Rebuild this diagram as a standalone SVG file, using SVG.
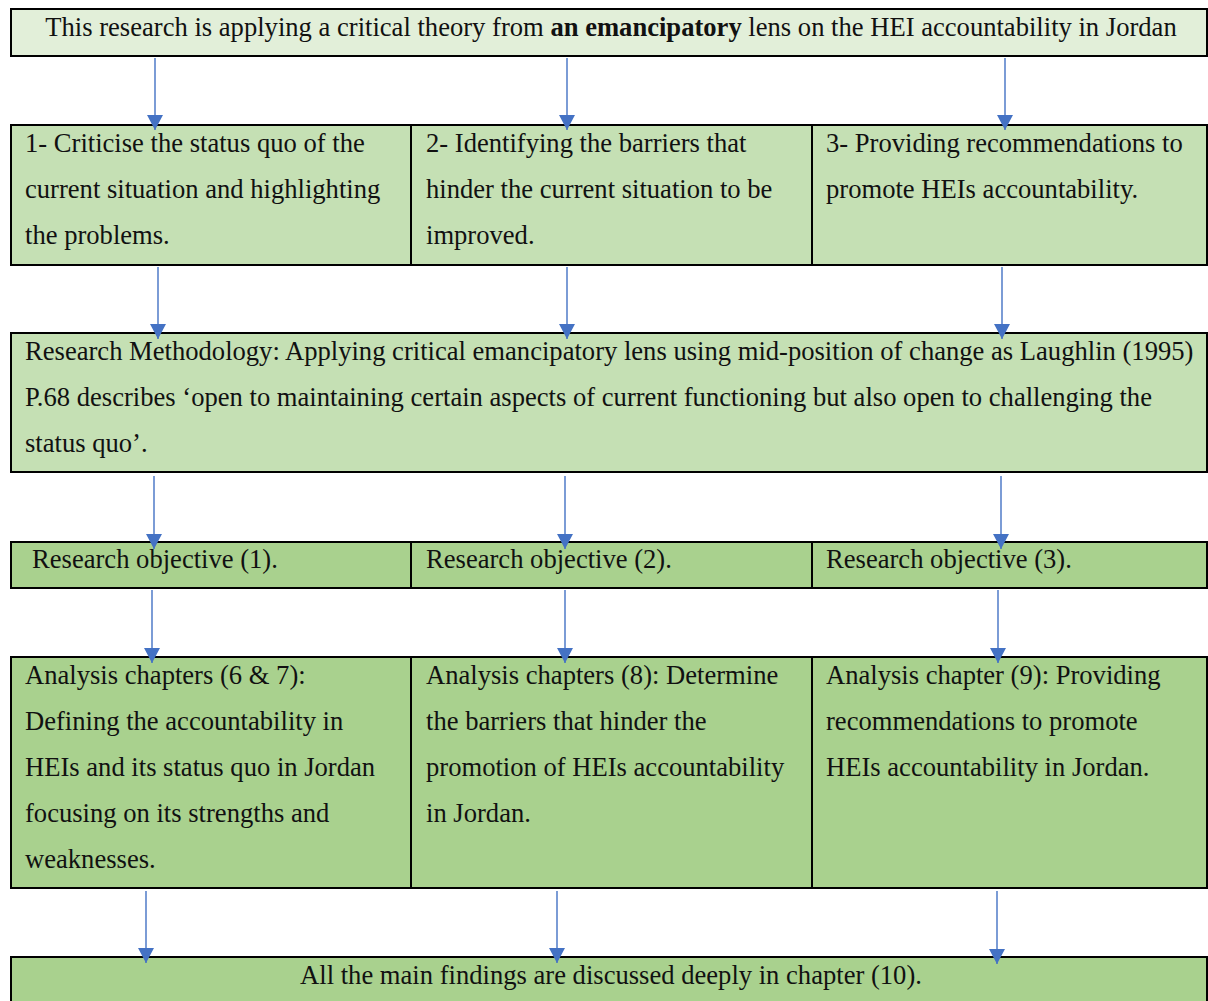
<svg xmlns="http://www.w3.org/2000/svg" width="1208" height="1001" viewBox="0 0 1208 1001">
<defs>
<marker id="ah" markerUnits="userSpaceOnUse" markerWidth="15" markerHeight="16" viewBox="0 0 15 16" refX="15" refY="8" orient="auto">
<path d="M0,0 L15,8 L0,16 Z" fill="#4472C4"/>
</marker>
<style>
.box{stroke:#000;stroke-width:2}
.l1{fill:#E2EFD9}
.l2{fill:#C5E0B4}
.l3{fill:#A9D18E}
.c{text-anchor:middle}
.conn line{stroke:#4472C4;stroke-width:1.4;marker-end:url(#ah)}
</style>
</defs>
<rect width="1208" height="1001" fill="#fff"/>
<g font-family="Liberation Serif, Times New Roman, serif" font-size="26.6" fill="#111">
<g id="top">
<rect class="box l1" x="11" y="9" width="1196" height="47"/>
<text class="c" x="611" y="36">This research is applying a critical theory from <tspan font-weight="bold">an emancipatory</tspan> lens on the HEI accountability in Jordan</text>
</g>
<g id="aim1">
<rect class="box l2" x="11" y="125" width="400" height="140"/>
<text x="25" y="152">1- Criticise the status quo of the</text>
<text x="25" y="198">current situation and highlighting</text>
<text x="25" y="244">the problems.</text>
</g>
<g id="aim2">
<rect class="box l2" x="411" y="125" width="401" height="140"/>
<text x="426" y="152">2- Identifying the barriers that</text>
<text x="426" y="198">hinder the current situation to be</text>
<text x="426" y="244">improved.</text>
</g>
<g id="aim3">
<rect class="box l2" x="812" y="125" width="395" height="140"/>
<text x="826" y="152">3- Providing recommendations to</text>
<text x="826" y="198">promote HEIs accountability.</text>
</g>
<g id="methodology">
<rect class="box l2" x="11" y="333" width="1196" height="139"/>
<text x="25" y="360">Research Methodology: Applying critical emancipatory lens using mid-position of change as Laughlin (1995)</text>
<text x="25" y="406">P.68 describes ‘open to maintaining certain aspects of current functioning but also open to challenging the</text>
<text x="25" y="452">status quo’.</text>
</g>
<g id="obj1">
<rect class="box l3" x="11" y="542" width="400" height="46"/>
<text x="32" y="568">Research objective (1).</text>
</g>
<g id="obj2">
<rect class="box l3" x="411" y="542" width="401" height="46"/>
<text x="426" y="568">Research objective (2).</text>
</g>
<g id="obj3">
<rect class="box l3" x="812" y="542" width="395" height="46"/>
<text x="826" y="568">Research objective (3).</text>
</g>
<g id="ch1">
<rect class="box l3" x="11" y="657" width="400" height="231"/>
<text x="25" y="684">Analysis chapters (6 &amp; 7):</text>
<text x="25" y="730">Defining the accountability in</text>
<text x="25" y="776">HEIs and its status quo in Jordan</text>
<text x="25" y="822">focusing on its strengths and</text>
<text x="25" y="868">weaknesses.</text>
</g>
<g id="ch2">
<rect class="box l3" x="411" y="657" width="401" height="231"/>
<text x="426" y="684">Analysis chapters (8): Determine</text>
<text x="426" y="730">the barriers that hinder the</text>
<text x="426" y="776">promotion of HEIs accountability</text>
<text x="426" y="822">in Jordan.</text>
</g>
<g id="ch3">
<rect class="box l3" x="812" y="657" width="395" height="231"/>
<text x="826" y="684">Analysis chapter (9): Providing</text>
<text x="826" y="730">recommendations to promote</text>
<text x="826" y="776">HEIs accountability in Jordan.</text>
</g>
<g id="findings">
<rect class="box l3" x="11" y="957" width="1196" height="60"/>
<text class="c" x="611" y="984">All the main findings are discussed deeply in chapter (10).</text>
</g>
</g>
<g class="conn" id="connectors">
<line x1="155" y1="58" x2="155" y2="130"/>
<line x1="567" y1="58" x2="567" y2="130"/>
<line x1="1005" y1="58" x2="1005" y2="130"/>
<line x1="158" y1="267" x2="158" y2="339"/>
<line x1="567" y1="267" x2="567" y2="339"/>
<line x1="1002" y1="267" x2="1002" y2="339"/>
<line x1="154" y1="476" x2="154" y2="549"/>
<line x1="565" y1="476" x2="565" y2="549"/>
<line x1="1001" y1="476" x2="1001" y2="549"/>
<line x1="152" y1="590" x2="152" y2="663"/>
<line x1="565" y1="590" x2="565" y2="663"/>
<line x1="998" y1="590" x2="998" y2="663"/>
<line x1="146" y1="891" x2="146" y2="963"/>
<line x1="557" y1="891" x2="557" y2="963"/>
<line x1="997" y1="891" x2="997" y2="964"/>
</g>
</svg>
